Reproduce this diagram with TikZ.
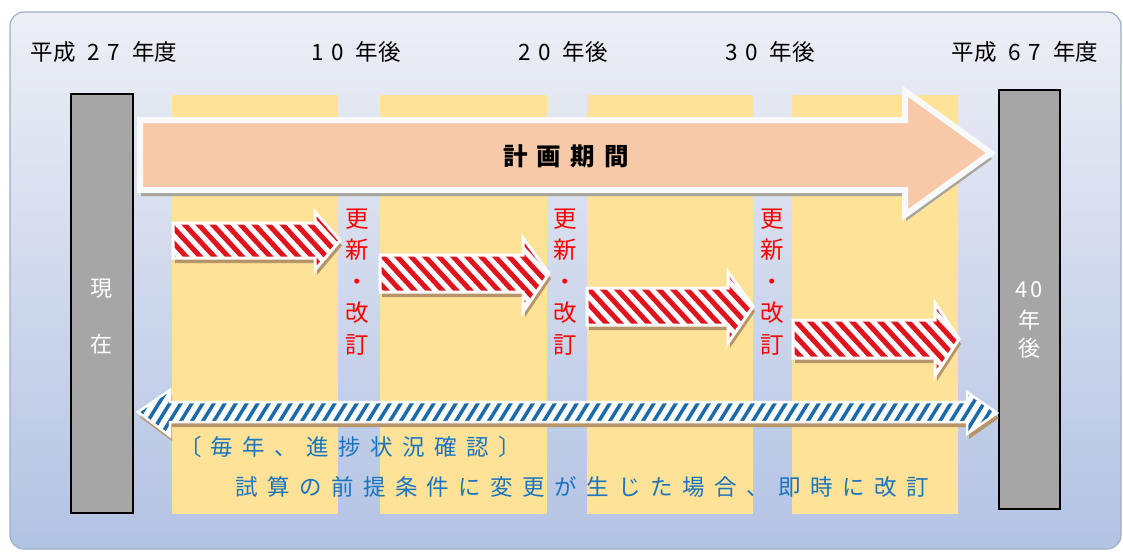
\documentclass[tikz,border=0pt]{standalone}
\usepackage{fontspec}
\newfontfamily\jp{Noto Sans CJK JP}
\usetikzlibrary{calc}
\definecolor{bgtop}{HTML}{EDEFF5}
\definecolor{bgbot}{HTML}{B3C3E4}
\definecolor{bgborder}{HTML}{9DAECB}
\definecolor{colyel}{HTML}{FDE297}
\definecolor{barg}{HTML}{A6A6A6}
\definecolor{peach}{HTML}{F7C9A9}
\definecolor{bigshad}{HTML}{A8A49C}
\definecolor{shad}{HTML}{B8946A}
\definecolor{stripered}{HTML}{E0141E}
\definecolor{stripeblue}{HTML}{1B6AAA}
\definecolor{txtblue}{HTML}{1A74C0}
\tikzset{
  toplbl/.style={font=\jp\fontsize{22.5}{22.5}\selectfont, text=black, inner sep=0pt},
  redlbl/.style={font=\jp\fontsize{23.5}{31.5}\selectfont, text=red, align=center, inner sep=0pt},
  barlbl/.style={font=\jp\fontsize{22}{22}\selectfont, text=white, inner sep=0pt},
  bluelbl/.style={font=\jp\fontsize{22.5}{22.5}\selectfont\addfontfeature{LetterSpace=42}, text=txtblue, inner sep=0pt},
  titlelbl/.style={font=\jp\bfseries\fontsize{24.5}{24.5}\selectfont\addfontfeature{LetterSpace=38}, text=black, inner sep=0pt},
  column/.style={fill=colyel, draw=none},
  timebar/.style={fill=barg, draw=black, line width=1.5pt},
}
% red striped arrow: x1, xhead, xtip, ytop, ybot, headtop, headbot
\newcommand\redarrow[7]{%
  \pgfmathsetmacro\ymid{(#4+#5)/2}%
  \def\arrpath{(#1,#4) -- (#2,#4) -- (#2,#6) -- (#3,\ymid) -- (#2,#7) -- (#2,#5) -- (#1,#5) -- cycle}%
  \fill[shad, shift={(2,5)}] \arrpath;
  \fill[white] \arrpath;
  \begin{scope}
    \clip \arrpath;
    \pgfmathsetmacro\sa{#1-70}\pgfmathsetmacro\sb{#1-56}%
    \foreach \s in {\sa,\sb,...,#3} {\draw[stripered, line width=5] (\s,#6) -- ++(60,65);}
  \end{scope}
  \draw[white, line width=3, line join=miter] \arrpath;
}
\begin{document}
\begin{tikzpicture}[x=1pt,y=-1pt]
\useasboundingbox (0,0) rectangle (1123,552);
\fill[white] (0,0) rectangle (1123,552);
% background panel
\shade[top color=bgtop, bottom color=bgbot, rounded corners=14] (10,12) rectangle (1121,549);
\draw[bgborder, line width=1.2, rounded corners=14] (10,12) rectangle (1121,549);
% columns
\fill[column] (172,95) rectangle (338,514);
\fill[column] (380,95) rectangle (547,514);
\fill[column] (587,95) rectangle (753,514);
\fill[column] (792,95) rectangle (958,514);
% top labels
\node[toplbl] (l0) at (104,52) {平成\hspace{12pt}2\hspace{8pt}7\hspace{12pt}年度};
\node[toplbl] (l10) at (356,52) {1\hspace{8pt}0\hspace{12pt}年後};
\node[toplbl] (l20) at (563,52) {2\hspace{8pt}0\hspace{12pt}年後};
\node[toplbl] (l30) at (770,52) {3\hspace{8pt}0\hspace{12pt}年後};
\node[toplbl] (l67) at (1025,52) {平成\hspace{12pt}6\hspace{8pt}7\hspace{12pt}年度};
% grey bars
\draw[timebar] (71,94) rectangle (133,513);
\draw[timebar] (999,90) rectangle (1060,509);
\node[barlbl] (gen) at (101,289) {現};
\node[barlbl] (zai) at (101,344) {在};
\node[barlbl] (f40) at (1029,290) {4\hspace{3pt}0};
\node[barlbl] (fnen) at (1029,320) {年};
\node[barlbl] (fgo) at (1029,348) {後};
% big arrow
\def\bigpath{(140,120) -- (905,120) -- (905,91) -- (991,153) -- (905,215) -- (905,190) -- (140,190) -- cycle}
\fill[bigshad, shift={(1,6)}] \bigpath;
\filldraw[fill=peach, draw=white!60!bgtop, line width=6, line join=miter] \bigpath;
\node[titlelbl] (title) at (566,156) {計画期間};
% red arrows
\redarrow{173}{315}{340}{223}{258}{212}{270}
\redarrow{380}{523}{549}{255}{292}{238}{312}
\redarrow{587}{728}{753}{288}{325}{272}{343}
\redarrow{793}{935}{959}{320}{358}{303}{376}
% red labels
\node[redlbl] (r1) at (357,282) {更\\新\\・\\改\\訂};
\node[redlbl] (r2) at (565,282) {更\\新\\・\\改\\訂};
\node[redlbl] (r3) at (772,282) {更\\新\\・\\改\\訂};
% blue double arrow
\def\bluepath{(138,412) -- (170,390) -- (170,402) -- (967,402) -- (967,392) -- (997,413) -- (967,434) -- (967,422) -- (170,422) -- (170,436) -- cycle}
\fill[shad, shift={(2,5)}] \bluepath;
\fill[white] \bluepath;
\begin{scope}
  \clip \bluepath;
  \foreach \s in {100,111,...,1000} {\draw[stripeblue, line width=3.5] (\s,445) -- ++(36,-58);}
\end{scope}
\draw[white, line width=2.5, line join=miter] \bluepath;
% blue labels
\node[bluelbl] (b1) at (350,447) {〔毎年、進捗状況確認〕};
\node[bluelbl] (b2) at (582,487) {試算の前提条件に変更が生じた場合、即時に改訂};
\end{tikzpicture}
\end{document}
